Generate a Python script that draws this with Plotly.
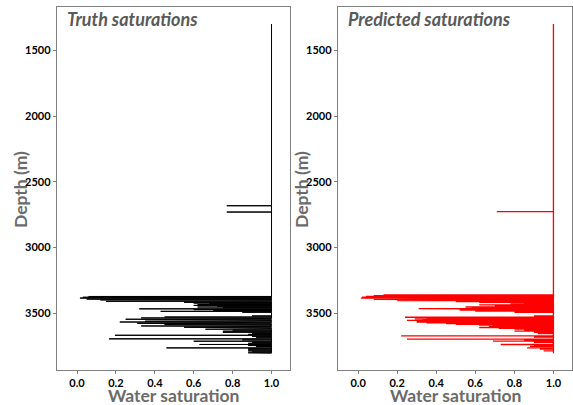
import plotly.graph_objects as go

# ---- data ----
top_depth = 1300
bottom_depth = 3803

truth_spike_depth = [2682, 2730,
    3372, 3378, 3384, 3388, 3392, 3398, 3404, 3409, 3416, 3422, 3428, 3434, 3440, 3446,
    3452, 3458, 3466, 3472, 3478, 3485, 3492, 3520, 3528, 3535, 3540, 3545, 3550, 3555,
    3560, 3566, 3571, 3576, 3581, 3586, 3591, 3596, 3601, 3606, 3611, 3616, 3621, 3628,
    3636, 3644, 3652, 3660, 3667, 3675, 3682, 3694, 3702, 3712, 3720, 3728, 3737, 3745,
    3752, 3763, 3770, 3778, 3786, 3794, 3800]
truth_spike_sw = [0.77, 0.77,
    0.06, 0.03, 0.015, 0.02, 0.05, 0.12, 0.28, 0.15, 0.55, 0.60, 0.68, 0.62, 0.60, 0.72,
    0.62, 0.75, 0.32, 0.60, 0.70, 0.43, 0.85, 0.90, 0.45, 0.33, 0.40, 0.25, 0.31, 0.38,
    0.35, 0.22, 0.30, 0.31, 0.34, 0.45, 0.50, 0.33, 0.33, 0.55, 0.66, 0.70, 0.66, 0.80,
    0.75, 0.75, 0.90, 0.88, 0.195, 0.90, 0.92, 0.165, 0.85, 0.60, 0.90, 0.88, 0.63, 0.88,
    0.92, 0.46, 0.88, 0.88, 0.88, 0.90, 0.88]

pred_spike_depth = [2727,
    3360, 3366, 3372, 3378, 3384, 3389, 3394, 3399, 3404, 3410, 3416, 3422, 3428, 3436,
    3444, 3452, 3458, 3465, 3470, 3476, 3484, 3492, 3520, 3530, 3536, 3542, 3548, 3554,
    3560, 3566, 3572, 3578, 3584, 3590, 3596, 3602, 3608, 3614, 3620, 3628, 3636, 3645,
    3655, 3672, 3680, 3697, 3705, 3712, 3720, 3737, 3745, 3752, 3763, 3772, 3785]
pred_spike_sw = [0.71,
    0.13, 0.08, 0.04, 0.02, 0.014, 0.03, 0.08, 0.15, 0.20, 0.50, 0.62, 0.85, 0.78, 0.62,
    0.70, 0.55, 0.58, 0.31, 0.45, 0.52, 0.60, 0.80, 0.90, 0.24, 0.35, 0.29, 0.33, 0.25,
    0.30, 0.30, 0.35, 0.45, 0.50, 0.62, 0.69, 0.67, 0.62, 0.72, 0.80, 0.85, 0.80, 0.90,
    0.92, 0.22, 0.90, 0.25, 0.85, 0.69, 0.90, 0.73, 0.90, 0.88, 0.865, 0.93, 0.95]

x_ticks = [0.0, 0.2, 0.4, 0.6, 0.8, 1.0]
y_ticks = [1500, 2000, 2500, 3000, 3500]
panel_titles = ["Truth saturations", "Predicted saturations"]


def build_path(depths, sws):
    xs, ys = [1.0], [top_depth]
    for d, v in zip(depths, sws):
        xs += [1.0, v, 1.0]
        ys += [d, d, d]
    xs.append(1.0)
    ys.append(bottom_depth)
    return xs, ys


tx, ty = build_path(truth_spike_depth, truth_spike_sw)
px, py = build_path(pred_spike_depth, pred_spike_sw)

fig = go.Figure()
fig.add_trace(go.Scatter(x=tx, y=ty, mode="lines", line=dict(color="black", width=1.0),
                         xaxis="x", yaxis="y", showlegend=False, hoverinfo="skip"))
fig.add_trace(go.Scatter(x=px, y=py, mode="lines", line=dict(color="#ff0000", width=1.3),
                         xaxis="x2", yaxis="y2", showlegend=False, hoverinfo="skip"))

W, H = 573, 405
yrange = [3931, 1171]
xrange = [-0.103, 1.095]
tickfont = dict(family="Lato, 'Open Sans', sans-serif", size=11, color="black", weight="bold")
axis_common = dict(showline=True, linecolor="#808080", linewidth=1.3, mirror=True,
                   showgrid=False, zeroline=False, ticks="outside", ticklen=3,
                   tickcolor="#808080", tickwidth=1, tickfont=tickfont)

ydom = [1 - 370 / H, 1 - 7 / H]
x1dom = [57 / W, 290 / W]
x2dom = [338 / W, 572 / W]

fig.update_layout(
    width=W, height=H,
    margin=dict(l=0, r=0, t=0, b=0),
    paper_bgcolor="white", plot_bgcolor="white",
    xaxis=dict(domain=x1dom, range=xrange, tickvals=x_ticks, tickformat=".1f",
               anchor="y", **axis_common),
    yaxis=dict(domain=ydom, range=yrange, tickvals=y_ticks, anchor="x", **axis_common),
    xaxis2=dict(domain=x2dom, range=xrange, tickvals=x_ticks, tickformat=".1f",
                anchor="y2", **axis_common),
    yaxis2=dict(domain=ydom, range=yrange, tickvals=y_ticks, anchor="x2", **axis_common),
)

title_font = dict(family="Lato, 'Open Sans', sans-serif", size=18, color="#5a5a5a",
                  weight="bold", style="italic")
axis_title_font = dict(family="Lato, 'Open Sans', sans-serif", size=17.5, color="#6b6b6b",
                       weight="bold")

for dom, title in zip([x1dom, x2dom], panel_titles):
    fig.add_annotation(text=title, xref="paper", yref="paper", x=dom[0] + 8 / W,
                       y=1 - 6 / H, xanchor="left", yanchor="top", showarrow=False,
                       font=title_font)
    fig.add_annotation(text="Water saturation", xref="paper", yref="paper",
                       x=(dom[0] + dom[1]) / 2, y=1 - 395 / H, xanchor="center",
                       yanchor="middle", showarrow=False, font=axis_title_font)
    fig.add_annotation(text="Depth (m)", xref="paper", yref="paper",
                       x=dom[0] - 37 / W, y=1 - 190 / H, xanchor="center",
                       yanchor="middle", textangle=-90, showarrow=False,
                       font=axis_title_font)

fig.write_html("out.html", config={"displayModeBar": False},
               post_script="document.body.style.margin='0';document.body.style.overflow='hidden';")
